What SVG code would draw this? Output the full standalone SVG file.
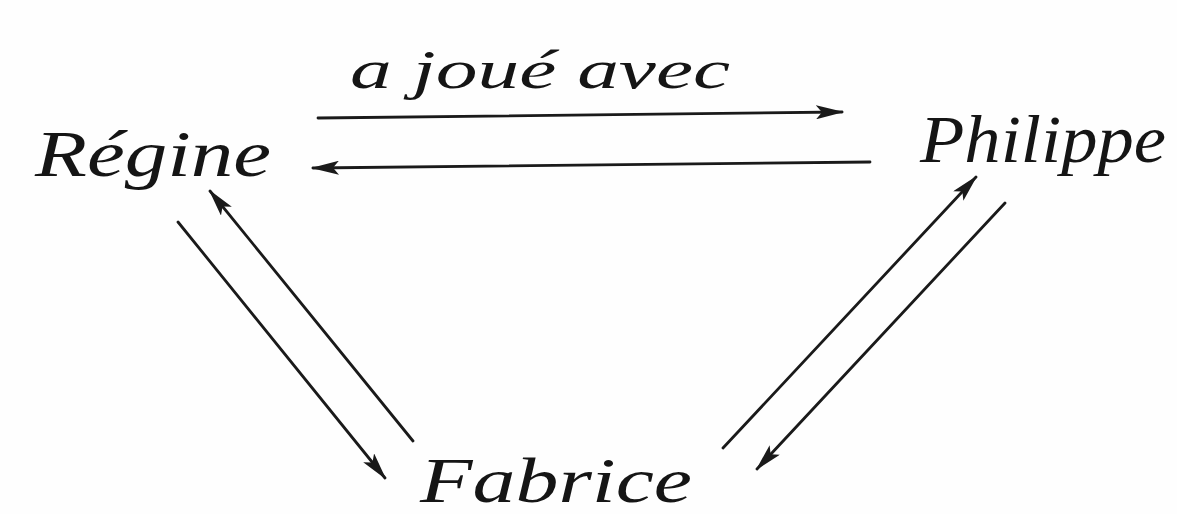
<svg xmlns="http://www.w3.org/2000/svg" width="1177" height="514" viewBox="0 0 1177 514">
<style>
.lbl{font-family:"Liberation Serif",serif;font-style:italic;fill:#151515}
.arr{stroke:#1a1a1a;stroke-width:2.8;fill:none;stroke-linecap:round;marker-end:url(#ah)}
</style>
<defs>
<marker id="ah" viewBox="0 0 28 14" refX="26" refY="7" markerWidth="28" markerHeight="14" markerUnits="userSpaceOnUse" orient="auto">
<path d="M0,0 L28,7 L0,14 L6,7 Z" fill="#1a1a1a"/>
</marker>
</defs>
<rect width="1177" height="514" fill="#fefefe"/>
<g id="connectors">
<line class="arr" x1="318" y1="118" x2="842" y2="112"/>
<line class="arr" x1="870" y1="162" x2="313" y2="168"/>
<line class="arr" x1="178" y1="222" x2="385" y2="478"/>
<line class="arr" x1="413" y1="441" x2="210" y2="191"/>
<line class="arr" x1="723" y1="448" x2="976" y2="177"/>
<line class="arr" x1="1005" y1="203" x2="757" y2="469"/>
<text class="lbl" x="350" y="88" font-size="54" textLength="380" lengthAdjust="spacingAndGlyphs">a joué avec</text>
</g>
<g id="node-regine"><text class="lbl" x="35" y="176" font-size="66" textLength="236" lengthAdjust="spacingAndGlyphs">Régine</text></g>
<g id="node-philippe"><text class="lbl" x="920" y="162" font-size="68" textLength="246" lengthAdjust="spacingAndGlyphs">Philippe</text></g>
<g id="node-fabrice"><text class="lbl" x="420" y="502" font-size="64" textLength="272" lengthAdjust="spacingAndGlyphs">Fabrice</text></g>
</svg>
